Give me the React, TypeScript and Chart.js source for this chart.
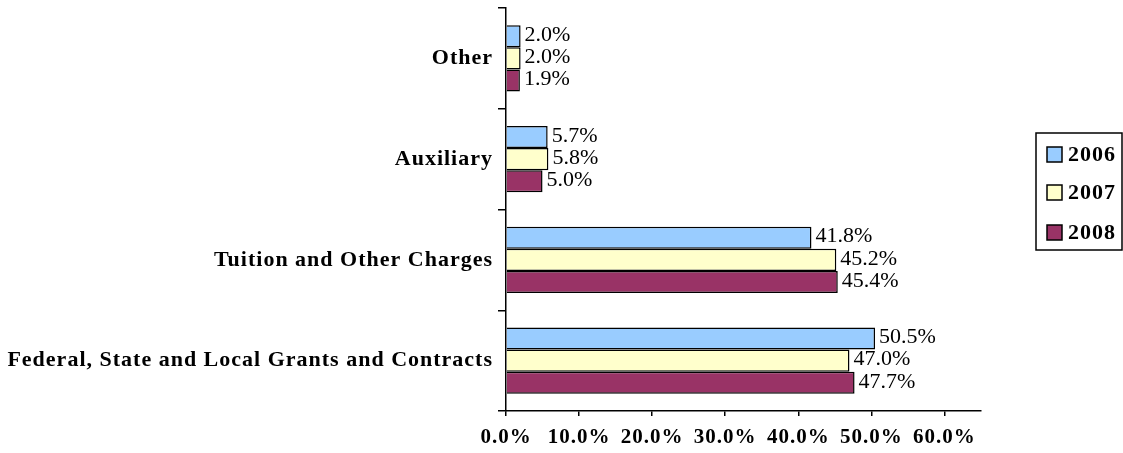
import React, { useEffect, useRef } from "react";
import { Chart, registerables } from "chart.js";

Chart.register(...registerables);

const categories = [
  "Other",
  "Auxiliary",
  "Tuition and Other Charges",
  "Federal, State and Local Grants and Contracts",
];
const seriesNames = ["2006", "2007", "2008"];
const values2006 = [2.0, 5.7, 41.8, 50.5];
const values2007 = [2.0, 5.8, 45.2, 47.0];
const values2008 = [1.9, 5.0, 45.4, 47.7];
const colors = ["#99CCFF", "#FFFFCC", "#993366"];
const tickValues = [0, 10, 20, 30, 40, 50, 60];

const FONT = '"Liberation Serif", "Times New Roman", serif';
const SPACING = "1px";

const spacingPlugin = {
  id: "spacing",
  beforeDraw(chart: any) {
    (chart.ctx as any).letterSpacing = SPACING;
  },
};

const dataLabelPlugin = {
  id: "dataLabels",
  afterDatasetsDraw(chart: any) {
    const ctx = chart.ctx;
    ctx.save();
    (ctx as any).letterSpacing = "0px";
    ctx.font = `22px ${FONT}`;
    ctx.fillStyle = "#000";
    ctx.textBaseline = "middle";
    ctx.textAlign = "left";
    chart.data.datasets.forEach((ds: any, di: number) => {
      const meta = chart.getDatasetMeta(di);
      meta.data.forEach((bar: any, i: number) => {
        ctx.fillText(ds.data[i].toFixed(1) + "%", bar.x + 4, bar.y - 1);
      });
    });
    ctx.restore();
  },
};

const legendPlugin = {
  id: "boxLegend",
  afterDraw(chart: any) {
    const ctx = chart.ctx;
    const left = chart.width - 87;
    const top = 133;
    const w = 86;
    const h = 117;
    ctx.save();
    (ctx as any).letterSpacing = SPACING;
    ctx.strokeStyle = "#000";
    ctx.lineWidth = 1.5;
    ctx.strokeRect(left, top, w, h);
    ctx.font = `bold 22px ${FONT}`;
    ctx.textBaseline = "middle";
    ctx.textAlign = "left";
    const ys = [154, 192, 232];
    seriesNames.forEach((name, i) => {
      ctx.fillStyle = colors[i];
      ctx.fillRect(left + 11, ys[i] - 7, 15, 15);
      ctx.strokeStyle = "#000";
      ctx.lineWidth = 1.5;
      ctx.strokeRect(left + 11, ys[i] - 7, 15, 15);
      ctx.fillStyle = "#000";
      ctx.fillText(name, left + 32, ys[i] + 1);
    });
    ctx.restore();
  },
};

export default function App() {
  const ref = useRef<HTMLCanvasElement>(null);
  useEffect(() => {
    document.body.style.margin = "0";
    const series = [values2006, values2007, values2008];
    const chart = new Chart(ref.current!, {
      type: "bar",
      data: {
        labels: categories,
        datasets: series.map((vals, i) => ({
          label: seriesNames[i],
          data: vals,
          backgroundColor: colors[i],
          borderColor: "#000",
          borderWidth: 1.5,
          categoryPercentage: 0.66,
          barPercentage: 1.0,
        })),
      },
      options: {
        indexAxis: "y",
        animation: false,
        responsive: false,
        maintainAspectRatio: false,
        layout: { padding: { top: 8, right: 142, left: 0, bottom: 0 } },
        plugins: { legend: { display: false }, tooltip: { enabled: false } },
        scales: {
          x: {
            min: 0,
            max: 65,
            afterBuildTicks: (scale: any) => {
              scale.ticks = tickValues.map((v) => ({ value: v }));
            },
            afterFit: (scale: any) => {
              scale.height = 42;
            },
            grid: {
              drawOnChartArea: false,
              drawTicks: true,
              tickLength: 5,
              color: "#000",
              lineWidth: 1.5,
            },
            border: { color: "#000", width: 1.5 },
            ticks: {
              padding: 9,
              color: "#000",
              font: { family: FONT, size: 21, weight: "bold" },
              callback: (v: any) => Number(v).toFixed(1) + "%",
            },
          },
          y: {
            afterFit: (scale: any) => {
              scale.width = 506;
              scale.paddingTop = 0;
              scale.paddingBottom = 0;
            },
            grid: {
              offset: true,
              drawOnChartArea: false,
              drawTicks: true,
              tickLength: 8,
              color: "#000",
              lineWidth: 1.5,
            },
            border: { color: "#000", width: 1.5 },
            ticks: {
              padding: 5,
              color: "#000",
              font: { family: FONT, size: 22, weight: "bold" },
            },
          },
        },
      },
      plugins: [spacingPlugin, dataLabelPlugin, legendPlugin],
    });
    return () => chart.destroy();
  }, []);
  return (
    <div style={{ position: "absolute", left: 0, top: 0, width: 1123, height: 453 }}>
      <canvas ref={ref} width={1123} height={453} style={{ width: 1123, height: 453 }} />
    </div>
  );
}
